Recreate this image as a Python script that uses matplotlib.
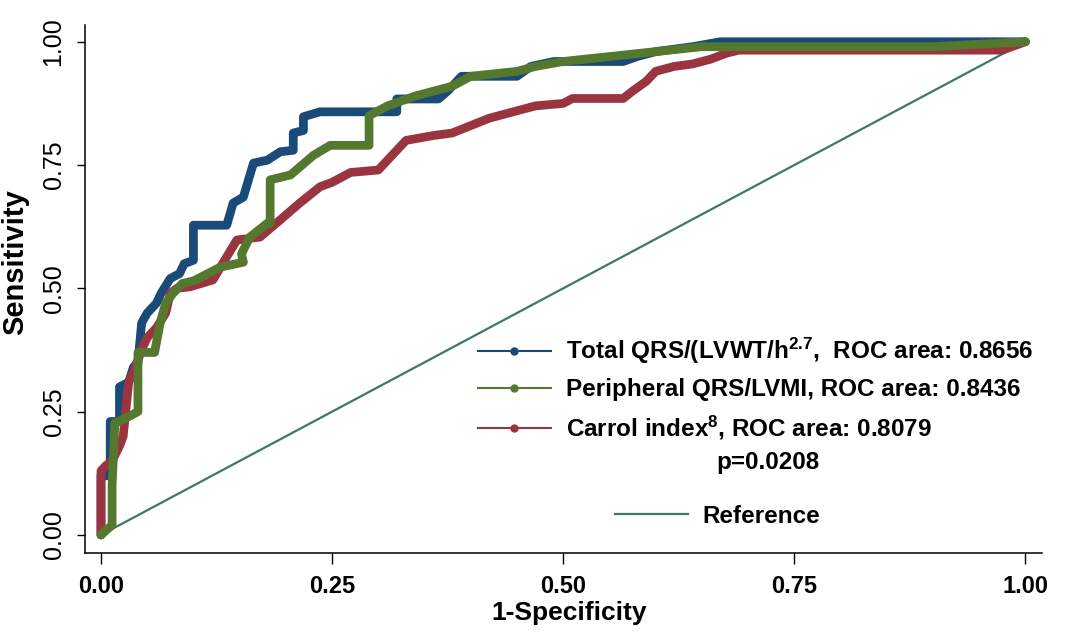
import matplotlib
matplotlib.use("Agg")
import matplotlib.pyplot as plt
from matplotlib.lines import Line2D

plt.rcParams['font.family'] = ['Liberation Sans', 'DejaVu Sans']
plt.rcParams['mathtext.fontset'] = 'custom'
plt.rcParams['mathtext.rm'] = 'Liberation Sans:bold'
plt.rcParams['mathtext.bf'] = 'Liberation Sans:bold'
plt.rcParams['mathtext.it'] = 'Liberation Sans:bold'

# ROC curves (1-specificity, sensitivity)
blue_x = [0, 0, 0.01, 0.01, 0.02, 0.02, 0.03, 0.035, 0.04, 0.044, 0.05, 0.06, 0.065, 0.075, 0.085, 0.09, 0.1, 0.1,
          0.136, 0.143, 0.154, 0.165, 0.18, 0.194, 0.208, 0.208, 0.219, 0.219, 0.237, 0.32, 0.32, 0.365, 0.375,
          0.39, 0.45, 0.465, 0.49, 0.565, 0.58, 0.60, 0.64, 0.67, 1.0]
blue_y = [0, 0.12, 0.12, 0.23, 0.23, 0.30, 0.31, 0.34, 0.35, 0.43, 0.45, 0.47, 0.49, 0.52, 0.53, 0.55, 0.557, 0.628,
          0.628, 0.673, 0.685, 0.754, 0.76, 0.777, 0.78, 0.815, 0.82, 0.848, 0.858, 0.858, 0.884, 0.884, 0.90,
          0.93, 0.93, 0.95, 0.96, 0.96, 0.97, 0.98, 0.99, 1.0, 1.0]

green_x = [0, 0.012, 0.012, 0.015, 0.03, 0.04, 0.04, 0.058, 0.064, 0.07, 0.078, 0.088, 0.10, 0.129, 0.154, 0.152,
           0.161, 0.18, 0.183, 0.183, 0.205, 0.23, 0.248, 0.29, 0.29, 0.31, 0.34, 0.38, 0.40, 0.45, 0.47, 0.50,
           0.55, 0.60, 0.65, 0.90, 1.0]
green_y = [0, 0.02, 0.10, 0.227, 0.24, 0.25, 0.37, 0.37, 0.43, 0.47, 0.49, 0.51, 0.515, 0.543, 0.553, 0.57,
           0.604, 0.632, 0.632, 0.72, 0.73, 0.77, 0.79, 0.79, 0.85, 0.87, 0.89, 0.91, 0.93, 0.94, 0.95, 0.96,
           0.97, 0.98, 0.99, 0.99, 1.0]

red_x = [0, 0, 0.005, 0.012, 0.02, 0.024, 0.03, 0.035, 0.045, 0.05, 0.06, 0.07, 0.075, 0.082, 0.096, 0.121, 0.136,
         0.147, 0.172, 0.194, 0.215, 0.237, 0.25, 0.27, 0.30, 0.31, 0.33, 0.36, 0.38, 0.40, 0.42, 0.45, 0.47, 0.50,
         0.51, 0.565, 0.575, 0.59, 0.60, 0.62, 0.64, 0.66, 0.677, 0.69, 0.975, 1.0]
red_y = [0, 0.13, 0.14, 0.15, 0.18, 0.2, 0.31, 0.33, 0.38, 0.40, 0.42, 0.45, 0.49, 0.50, 0.503, 0.517, 0.564,
         0.598, 0.604, 0.639, 0.673, 0.706, 0.715, 0.735, 0.74, 0.76, 0.80, 0.81, 0.815, 0.83, 0.845, 0.86, 0.87,
         0.875, 0.885, 0.885, 0.90, 0.92, 0.94, 0.95, 0.955, 0.965, 0.977, 0.983, 0.983, 1.0]

ref_x = [0, 1]
ref_y = [0, 1]

labels = [r"Total QRS/(LVWT/h$^{2.7}$,  ROC area: 0.8656",
          "Peripheral QRS/LVMI, ROC area: 0.8436",
          r"Carrol index$^{8}$, ROC area: 0.8079"]
p_text = "p=0.0208"
ticks = [0, 0.25, 0.5, 0.75, 1.0]
tick_labels = ["0.00", "0.25", "0.50", "0.75", "1.00"]

c_blue = "#1a4a78"
c_green = "#55782f"
c_red = "#9a3540"
c_ref = "#3a7868"

fig = plt.figure(figsize=(10.74, 6.37), dpi=100)
ax = fig.add_axes([85/1074, 1 - 552.7/637, 957/1074, 527.7/637])

ax.plot(ref_x, ref_y, color=c_ref, lw=1.6, zorder=1)
ax.plot(blue_x, blue_y, color=c_blue, lw=6.3, solid_joinstyle='round', solid_capstyle='round', zorder=2)
ax.plot(red_x, red_y, color=c_red, lw=6.3, solid_joinstyle='round', solid_capstyle='round', zorder=3)
ax.plot(green_x, green_y, color=c_green, lw=6.3, solid_joinstyle='round', solid_capstyle='round', zorder=4)

ax.set_xlim(-0.0173, 1.018)
ax.set_ylim(-0.036, 1.034)
for s in ['top', 'right']:
    ax.spines[s].set_visible(False)
for s in ['left', 'bottom']:
    ax.spines[s].set_linewidth(1.1)

ax.set_xticks(ticks)
ax.set_xticklabels(tick_labels, fontsize=17, fontweight='bold')
ax.set_yticks(ticks)
ax.set_yticklabels(tick_labels, fontsize=18, rotation=90, va='center')
ax.tick_params(axis='x', length=8, width=1, pad=8)
ax.tick_params(axis='y', length=6, width=1, pad=8)

ax.set_xlabel("1-Specificity", fontsize=19, fontweight='bold')
ax.xaxis.set_label_coords(0.506, -0.092)
ax.set_ylabel("Sensitivity", fontsize=21, fontweight='bold')
ax.yaxis.set_label_coords(-0.058, 0.551)

handles = [Line2D([], [], color=c, lw=1.5, marker='o', ms=5) for c in (c_blue, c_green, c_red)]
leg1 = fig.legend(handles, labels, loc='upper left', bbox_to_anchor=(478/1074, 1 - 336/637),
                  frameon=False, prop={'weight': 'bold', 'size': 17.5},
                  handlelength=3.0, handletextpad=0.6, labelspacing=0.5, borderpad=0, borderaxespad=0)
fig.text(768/1074, 1 - 463/637, p_text, ha='center', va='center', fontsize=17.5, fontweight='bold')
ref_handle = [Line2D([], [], color=c_ref, lw=1.6)]
fig.legend(ref_handle, ["Reference"], loc='upper left', bbox_to_anchor=(615/1074, 1 - 505/637),
           frameon=False, prop={'weight': 'bold', 'size': 17.5},
           handlelength=3.0, handletextpad=0.6, borderpad=0, borderaxespad=0)

fig.savefig("out.png", dpi=100)
